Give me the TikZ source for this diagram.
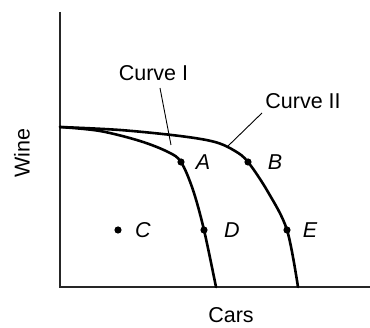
\documentclass[tikz,border=0pt]{standalone}
\usepackage{fontspec}
\setmainfont{Liberation Sans}
\begin{document}
\begin{tikzpicture}[x=1pt,y=-1pt,
  lab/.style={inner sep=0pt,font=\fontsize{21.5}{25}\selectfont},
  pt/.style={inner sep=0pt,font=\fontsize{21.5}{25}\selectfont\itshape},
  axis/.style={line width=1.6pt,black!85},
  curve/.style={line width=2.6pt,line cap=round},
  leader/.style={line width=0.9pt},
  dot/.style={fill=black}]
\useasboundingbox (0,0) rectangle (370,328);
% axes
\coordinate (O) at (60,287);
\coordinate (Ytop) at (60,12);
\coordinate (Xend) at (370,287);
\draw[axis] (Ytop) -- (O) -- (Xend);
% points
\coordinate (A) at (181,162);
\coordinate (D) at (204,230);
\coordinate (B) at (248,162);
\coordinate (E) at (287,230);
\coordinate (C) at (118,230);
\coordinate (S) at (60,127);
% curve I
\draw[curve] plot[smooth,tension=0.55] coordinates {(S) (100,131) (140,141) (168,152) (A) (193,190) (D) (216,287)};
% curve II
\draw[curve] plot[smooth,tension=0.55] coordinates {(S) (120,130) (180,136) (215,142) (235,151) (B) (268,192) (E) (298,287)};
% dots
\foreach \p in {A,B,C,D,E} \fill[dot] (\p) circle (3.6pt);
% labels
\node[pt] (lA) at (203,162) {A};
\node[pt] (lB) at (275,162) {B};
\node[pt] (lC) at (143,230) {C};
\node[pt] (lD) at (232,230) {D};
\node[pt] (lE) at (310,230) {E};
\node[lab] (c1) at (153.5,73.5) {Curve I};
\node[lab] (c2) at (303,101) {Curve II};
\node[lab] (cars) at (231,315) {Cars};
\node[lab,rotate=90] (wine) at (22,153) {Wine};
% leaders
\coordinate (l1a) at (160,88);
\coordinate (l1b) at (171,145);
\coordinate (l2a) at (262,113);
\coordinate (l2b) at (227,147);
\draw[leader] (l1a) -- (l1b);
\draw[leader] (l2a) -- (l2b);
\end{tikzpicture}
\end{document}
